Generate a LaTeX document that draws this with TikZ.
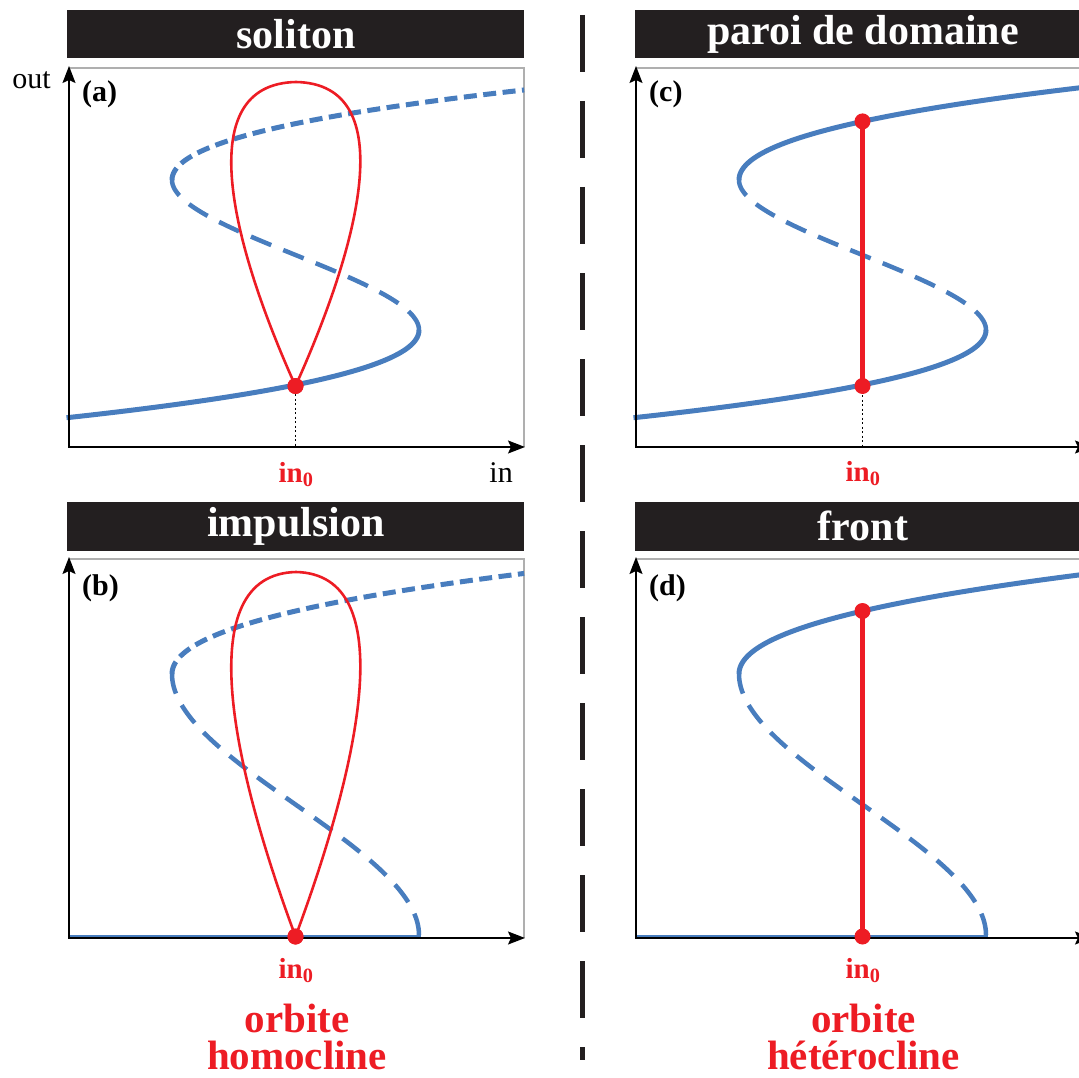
\documentclass[tikz,border=0pt]{standalone}
\usepackage{fontspec}
\setmainfont{Liberation Serif}[BoldFont={Liberation Serif Bold}]
\usetikzlibrary{arrows.meta}
\definecolor{cblue}{RGB}{72,125,190}
\definecolor{cred}{RGB}{237,28,36}
\definecolor{cbar}{RGB}{35,31,32}
\definecolor{cframe}{RGB}{175,175,175}
\tikzset{
 axis/.style={line width=1.6pt, black, {Stealth[length=17pt,width=13pt,inset=3pt]}-{Stealth[length=17pt,width=13pt,inset=3pt]}},
 frameline/.style={line width=1.6pt, cframe},
 titlebar/.style={fill=cbar, draw=none},
 titletext/.style={text=white, font=\fontsize{42}{42}\selectfont\bfseries, anchor=base, inner sep=0pt},
 solidbr/.style={cblue, line width=5pt},
 flatbr/.style={cblue, line width=3.5pt},
 longdash/.style={cblue, line width=4.5pt, dash pattern=on 22pt off 13pt},
 shortdash/.style={cblue, line width=5pt, dash pattern=on 13pt off 6.5pt},
 redloop/.style={cred, line width=2.6pt},
 redline/.style={cred, line width=4.5pt},
 reddot/.style={circle, fill=cred, minimum size=16pt, inner sep=0pt},
 guide/.style={black, line width=1pt, dash pattern=on 2pt off 2.5pt},
 inzero/.style={text=cred, font=\fontsize{29}{29}\selectfont\bfseries, anchor=base, inner sep=0pt},
 axlabel/.style={font=\fontsize{30}{30}\selectfont, inner sep=0pt},
 panlabel/.style={font=\fontsize{30}{30}\selectfont\bfseries, anchor=base west, inner sep=0pt},
 orbit/.style={text=cred, font=\fontsize{41}{37}\selectfont\bfseries, align=center, anchor=south, inner sep=0pt},
 separator/.style={cbar, line width=5pt, dash pattern=on 57pt off 29pt},
}
\begin{document}
\begin{tikzpicture}[x=1pt,y=-1pt]
\useasboundingbox (0,0) rectangle (1079,1078);
\clip (0,0) rectangle (1079,1078);

% ---------- separator ----------
\coordinate (sepT) at (582,15);
\coordinate (sepB) at (582,1060);
\draw[separator] (sepT) -- (sepB);

% ================= panel (a) =================
\begin{scope}
\fill[titlebar] (67,10) rectangle (524,58.5);
\node[titletext] (ta) at (296,49) {soliton};
\draw[frameline] (69,68) -- (524,68) -- (524,447);
\draw[solidbr] plot[domain=-2.17:-1.0, samples=60, variable=\t] ({295.5+61.75*(\t*\t*\t-3*\t)}, {255-75*\t});
\draw[longdash] plot[domain=-1:1, samples=80, variable=\t] ({295.5+61.75*(\t*\t*\t-3*\t)}, {255-75*\t});
\draw[shortdash] plot[domain=1:2.17, samples=60, variable=\t] ({295.5+61.75*(\t*\t*\t-3*\t)}, {180-77*(\t-1)});
\coordinate (a-o) at (69,447);
\coordinate (a-y) at (69,66);
\coordinate (a-x) at (525,447);
\draw[axis] (a-y) -- (a-o) -- (a-x);
\node[reddot] (a-dot) at (295.5,386) {};
\draw[redloop] (a-dot.center) .. controls (232,245) and (190,84) .. (296,82)
                            .. controls (402,84) and (359,245) .. (a-dot.center);
\coordinate (a-g) at (295.5,446);
\draw[guide] (a-dot.south) -- (a-g);
\node[reddot] (a-dot2) at (295.5,386) {};
\node[axlabel, anchor=base east] (a-out) at (51,89) {out};
\node[axlabel, anchor=base east] (a-in) at (513,482) {in};
\node[panlabel] (a-lab) at (82,102) {(a)};
\node[inzero] (a-in0) at (296,482) {in\textsubscript{0}};
\end{scope}

% ================= panel (c) =================
\begin{scope}[shift={(567,0)}]
\fill[titlebar] (68,10) rectangle (530,58.5);
\node[titletext] (tc) at (296,45) {paroi de domaine};
\draw[frameline] (69,68) -- (530,68);
\draw[solidbr] plot[domain=-2.17:-1.0, samples=60, variable=\t] ({295.5+61.75*(\t*\t*\t-3*\t)}, {255-75*\t});
\draw[longdash] plot[domain=-1:1, samples=80, variable=\t] ({295.5+61.75*(\t*\t*\t-3*\t)}, {255-75*\t});
\draw[solidbr] plot[domain=1:2.2, samples=60, variable=\t] ({295.5+61.75*(\t*\t*\t-3*\t)}, {180-80*(\t-1)});
\coordinate (c-o) at (69,447);
\coordinate (c-y) at (69,66);
\coordinate (c-x) at (525,447);
\draw[axis] (c-y) -- (c-o) -- (c-x);
\coordinate (c-g) at (295.5,446);
\draw[guide] (295.5,386) -- (c-g);
\node[reddot] (c-top) at (295.5,121.4) {};
\node[reddot] (c-bot) at (295.5,386) {};
\draw[redline] (c-top.center) -- (c-bot.center);
\node[panlabel] (c-lab) at (82,102) {(c)};
\node[inzero] (c-in0) at (296,481) {in\textsubscript{0}};
\end{scope}

% ================= panel (b) =================
\begin{scope}[shift={(0,491)}]
\fill[titlebar] (67,11) rectangle (524,59.5);
\node[titletext] (tb) at (296,45.5) {impulsion};
\draw[frameline] (69,68) -- (524,68) -- (524,447);
\draw[flatbr] (69,445.5) -- (421,445.5);
\draw[longdash] plot[domain=-1:1, samples=80, variable=\t] ({295.5+61.75*(\t*\t*\t-3*\t)}, {313.5-130.5*\t});
\draw[shortdash] plot[domain=1:2.17, samples=60, variable=\t] ({295.5+61.75*(\t*\t*\t-3*\t)}, {183-86*(\t-1)});
\coordinate (b-o) at (69,447);
\coordinate (b-y) at (69,66);
\coordinate (b-x) at (525,447);
\draw[axis] (b-y) -- (b-o) -- (b-x);
\node[reddot] (b-dot) at (295.5,445.5) {};
\draw[redloop] (b-dot.center) .. controls (232,274.6) and (190,83.4) .. (296,81)
                            .. controls (402,83.4) and (359,274.6) .. (b-dot.center);
\node[reddot] (b-dot2) at (295.5,445.5) {};
\node[panlabel] (b-lab) at (82,104) {(b)};
\node[inzero] (b-in0) at (296,487) {in\textsubscript{0}};
\node[orbit] (b-orb) at (297,579) {orbite\\homocline};
\end{scope}

% ================= panel (d) =================
\begin{scope}[shift={(567,491)}]
\fill[titlebar] (68,11) rectangle (530,59.5);
\node[titletext] (td) at (296,49) {front};
\draw[frameline] (69,68) -- (530,68);
\draw[flatbr] (69,445.5) -- (421,445.5);
\draw[longdash] plot[domain=-1:1, samples=80, variable=\t] ({295.5+61.75*(\t*\t*\t-3*\t)}, {313.5-130.5*\t});
\draw[solidbr] plot[domain=1:2.2, samples=60, variable=\t] ({295.5+61.75*(\t*\t*\t-3*\t)}, {183-86*(\t-1)});
\coordinate (d-o) at (69,447);
\coordinate (d-y) at (69,66);
\coordinate (d-x) at (525,447);
\draw[axis] (d-y) -- (d-o) -- (d-x);
\node[reddot] (d-top) at (295.5,120) {};
\node[reddot] (d-bot) at (295.5,445.5) {};
\draw[redline] (d-top.center) -- (d-bot.center);
\node[panlabel] (d-lab) at (82,104) {(d)};
\node[inzero] (d-in0) at (296,487) {in\textsubscript{0}};
\node[orbit] (d-orb) at (296.5,579) {orbite\\hétérocline};
\end{scope}
\end{tikzpicture}
\end{document}
